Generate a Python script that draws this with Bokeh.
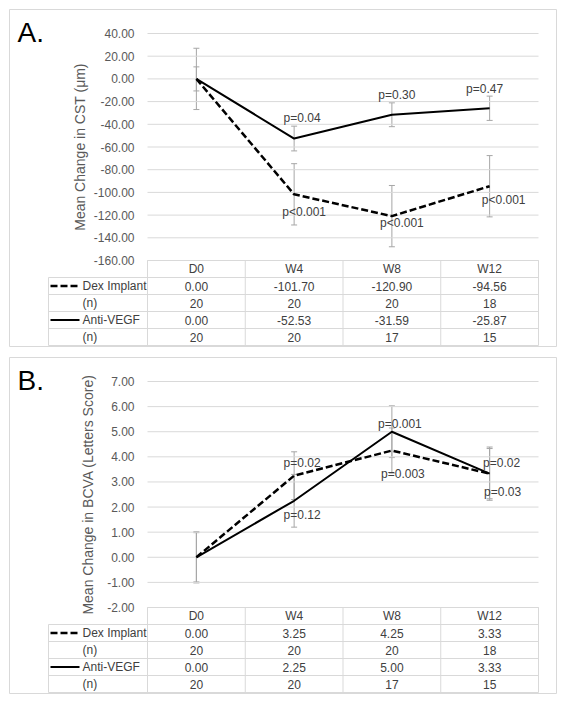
from bokeh.plotting import figure
from bokeh.layouts import column
from bokeh.models import (Range1d, FixedTicker, PrintfTickFormatter,
                          ColumnDataSource, Whisker, TeeHead)
from bokeh.core.properties import value
from bokeh.embed import file_html
from bokeh.resources import INLINE

# ---------------- data ----------------
timepoints = ["D0", "W4", "W8", "W12"]
series_names = ["Dex Implant", "Anti-VEGF"]

cst_ticks = [40, 20, 0, -20, -40, -60, -80, -100, -120, -140, -160]
cst_dex = [0.00, -101.70, -120.90, -94.56]
cst_dex_err = [27.0, 27.0, 27.0, 27.0]
cst_dex_n = [20, 20, 20, 18]
cst_anti = [0.00, -52.53, -31.59, -25.87]
cst_anti_err = [10.6, 10.9, 10.5, 10.7]
cst_anti_n = [20, 20, 17, 15]
cst_dex_p = ["", "p<0.001", "p<0.001", "p<0.001"]
cst_anti_p = ["", "p=0.04", "p=0.30", "p=0.47"]

bcva_ticks = [7, 6, 5, 4, 3, 2, 1, 0, -1, -2]
bcva_dex = [0.00, 3.25, 4.25, 3.33]
bcva_dex_err = [1.02, 0.95, 0.90, 1.00]
bcva_dex_n = [20, 20, 20, 18]
bcva_anti = [0.00, 2.25, 5.00, 3.33]
bcva_anti_err = [0.98, 1.05, 1.03, 1.06]
bcva_anti_n = [20, 20, 17, 15]
bcva_dex_p = ["", "p=0.02", "p=0.003", "p=0.02"]
bcva_anti_p = ["", "p=0.12", "p=0.001", "p=0.03"]

# ---------------- style / layout ----------------
FONT = "Liberation Sans"
GRID = "#d9d9d9"
AXIS_TXT = "#595959"
TXT = "#404040"
ERR = "#a6a6a6"
DASH = "7 3"

FIG_W = 557
FRAME_L, FRAME_R = 9, 556          # page x of the panel box
CHART_X0 = 147.0                   # page x of the chart's left edge
COL_W = 97.75                      # px per time-point column
LABEL_COL_X0 = 48.0                # page x of the table's label column
ROW_H = 17.0                       # table row height, px

# pixel offsets of the p-value labels (style, not data)
cst_dex_off = [(0, 0), (10, 18), (10, 7), (14, 14)]
cst_anti_off = [(0, 0), (8, -21), (5, -20), (-5, -19)]
bcva_dex_off = [(0, 0), (8, -13), (11, 23), (12, -11)]
bcva_anti_off = [(0, 0), (8, 14), (8, -8), (13, 18)]


def px_x(px):
    return (px - CHART_X0) / COL_W


def panel(letter, ylabel, ticks, dex, dex_err, dex_n, anti, anti_err, anti_n,
          dex_p, anti_p, dex_off, anti_off, fig_top, frame_top, frame_bot,
          chart_top, chart_bot, label_standoff):
    ymin, ymax = min(ticks), max(ticks)
    ppu = (chart_bot - chart_top) / (ymax - ymin)
    y_range = Range1d(ymin - (frame_bot - chart_bot) / ppu,
                      ymax + (chart_top - frame_top) / ppu)

    def px_y(py):
        return ymax - (py - chart_top) / ppu

    p = figure(width=FIG_W, height=frame_bot + 1 - fig_top,
               x_range=Range1d(px_x(FRAME_L), px_x(FRAME_R)), y_range=y_range,
               output_backend="svg", toolbar_location=None,
               x_axis_location=None, y_axis_location="left",
               min_border_left=FRAME_L, min_border_right=FIG_W - FRAME_R,
               min_border_top=frame_top - fig_top, min_border_bottom=1)
    p.extra_y_ranges = {"table": Range1d((frame_bot - chart_bot) / ROW_H,
                                         -(chart_bot - frame_top) / ROW_H)}
    p.outline_line_color = GRID
    p.background_fill_color = "white"
    p.border_fill_color = "white"
    p.xgrid.visible = False
    p.ygrid.visible = False

    ncol = len(timepoints)
    xs = [i + 0.5 for i in range(ncol)]

    # horizontal gridlines of the chart area
    p.segment(x0=[0] * len(ticks), x1=[ncol] * len(ticks), y0=ticks, y1=ticks,
              line_color=GRID, line_width=1)

    ax = p.yaxis[0]
    ax.fixed_location = 0
    ax.bounds = (ymin, ymax)
    ax.ticker = FixedTicker(ticks=ticks)
    ax.formatter = PrintfTickFormatter(format="%.2f")
    ax.axis_line_color = None
    ax.major_tick_line_color = None
    ax.minor_tick_line_color = None
    ax.major_label_standoff = 7
    ax.major_label_text_font = FONT
    ax.major_label_text_font_size = "12px"
    ax.major_label_text_color = AXIS_TXT
    ax.axis_label = ylabel
    ax.axis_label_text_font = FONT
    ax.axis_label_text_font_size = "14px"
    ax.axis_label_text_font_style = "normal"
    ax.axis_label_text_color = AXIS_TXT
    ax.axis_label_standoff = label_standoff

    # error bars
    for vals, errs in ((dex, dex_err), (anti, anti_err)):
        src = ColumnDataSource(dict(x=xs,
                                    upper=[v + e for v, e in zip(vals, errs)],
                                    lower=[v - e for v, e in zip(vals, errs)]))
        p.add_layout(Whisker(base="x", upper="upper", lower="lower", source=src,
                             line_color=ERR, line_width=1,
                             upper_head=TeeHead(size=6, line_color=ERR, line_width=1),
                             lower_head=TeeHead(size=6, line_color=ERR, line_width=1)))

    # series lines
    p.line(x=xs, y=dex, line_color="black", line_width=2.5, line_dash=DASH)
    p.line(x=xs, y=anti, line_color="black", line_width=2)

    # p-value labels
    for vals, labs, offs in ((dex, dex_p, dex_off), (anti, anti_p, anti_off)):
        src = ColumnDataSource(dict(x=xs, y=vals, t=labs,
                                    xo=[o[0] for o in offs], yo=[o[1] for o in offs]))
        p.text(x="x", y="y", text="t", x_offset="xo", y_offset="yo", source=src,
               text_align="center", text_baseline="middle",
               text_font=value(FONT), text_font_size="12px", text_color=TXT)

    # panel letter
    p.text(x=[px_x(17)], y=[px_y(chart_top - 1)], text=[letter],
           text_align="left", text_baseline="middle",
           text_font=value(FONT), text_font_size="28px", text_color="black")

    # ---------- data table ----------
    nrow = 1 + 2 * len(series_names)
    lc = px_x(LABEL_COL_X0)
    hx0 = [0] + [lc] * nrow
    hx1 = [ncol] * (nrow + 1)
    hy = list(range(nrow + 1))
    p.segment(x0=hx0, x1=hx1, y0=hy, y1=hy, y_range_name="table",
              line_color=GRID, line_width=1)
    vx = list(range(ncol + 1)) + [lc]
    p.segment(x0=vx, x1=vx, y0=[0] * (ncol + 1) + [1], y1=[nrow] * (ncol + 2),
              y_range_name="table", line_color=GRID, line_width=1)

    rows = [timepoints,
            ["%.2f" % v for v in dex], [str(n) for n in dex_n],
            ["%.2f" % v for v in anti], [str(n) for n in anti_n]]
    cx, cy, ct = [], [], []
    for r, row in enumerate(rows):
        cx += xs
        cy += [r + 0.5] * ncol
        ct += row
    p.text(x=cx, y=cy, text=ct, y_range_name="table", text_align="center",
           text_baseline="middle", text_font=value(FONT), text_font_size="12px",
           text_color=TXT)

    row_labels = [series_names[0], "(n)", series_names[1], "(n)"]
    p.text(x=[px_x(82)] * len(row_labels), y=[r + 1.5 for r in range(len(row_labels))],
           text=row_labels, y_range_name="table", text_align="left",
           text_baseline="middle", text_font=value(FONT), text_font_size="12px",
           text_color=TXT)
    # legend keys
    p.line(x=[px_x(50), px_x(79)], y=[1.5, 1.5], y_range_name="table",
           line_color="black", line_width=2.5, line_dash=DASH)
    p.line(x=[px_x(50), px_x(79)], y=[3.5, 3.5], y_range_name="table",
           line_color="black", line_width=2)
    return p


pa = panel("A.", "Mean Change in CST (μm)", cst_ticks, cst_dex, cst_dex_err, cst_dex_n,
           cst_anti, cst_anti_err, cst_anti_n, cst_dex_p, cst_anti_p,
           cst_dex_off, cst_anti_off,
           fig_top=0, frame_top=9, frame_bot=346, chart_top=33, chart_bot=260,
           label_standoff=3)
pb = panel("B.", "Mean Change in BCVA (Letters Score)", bcva_ticks, bcva_dex, bcva_dex_err,
           bcva_dex_n, bcva_anti, bcva_anti_err, bcva_anti_n, bcva_dex_p, bcva_anti_p,
           bcva_dex_off, bcva_anti_off,
           fig_top=347, frame_top=357, frame_bot=693, chart_top=381, chart_bot=607,
           label_standoff=8)

layout = column(pa, pb, spacing=0)
open("out.html", "w").write(file_html(layout, INLINE))
